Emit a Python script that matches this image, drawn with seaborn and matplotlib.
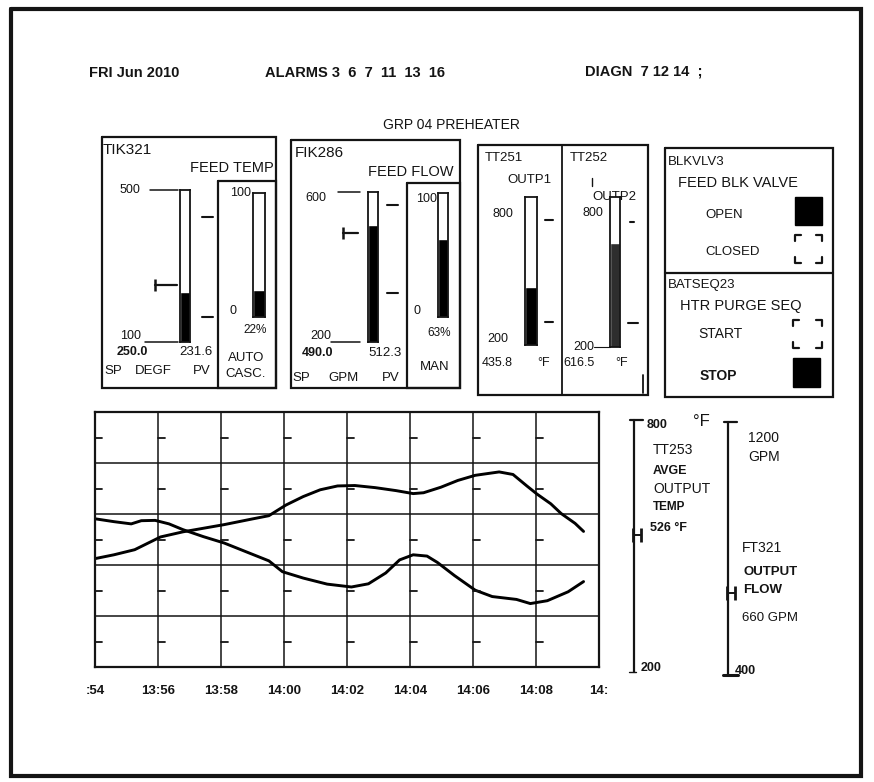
import numpy as np
import pandas as pd
import matplotlib.pyplot as plt
import matplotlib.transforms as mtransforms
import seaborn as sns

plt.switch_backend("Agg")

# ---- data ----
HEADER_DATE = "FRI Jun 2010"
ALARMS = [3, 6, 7, 11, 13, 16]
DIAGN = [7, 12, 14]

GAUGE_TAGS = ["TIK321", "FIK286", "TT251", "TT252"]
GAUGE_LO = [100, 200, 200, 200]
GAUGE_HI = [500, 600, 800, 800]
GAUGE_PV = [231.6, 512.3, 435.8, 616.5]
GAUGE_SP = [250.0, 490.0, None, None]
GAUGE_ALARM_HI = [430, 565, 707, 700]
GAUGE_ALARM_LO = [165, 331, 293, 296]
OUTPUT_PCT = [22, 63]

# trend: minutes after 13:54
TT253_MIN = [0, 0.60, 1.26, 2.08, 2.79, 4.10, 4.97, 5.52, 6.06, 6.61, 7.15, 7.70, 8.25, 8.90,
             9.56, 10.10, 10.43, 10.98, 11.52, 12.07, 12.83, 13.27, 13.71, 14.03, 14.47,
             14.80, 15.24, 15.51]
TT253_F = [455, 464, 476, 506, 518, 535, 548, 556, 581, 601, 617, 626, 627, 622,
           615, 608, 610, 623, 639, 651, 659, 653, 626, 607, 584, 561, 538, 519]
FT321_MIN = [0, 0.60, 1.15, 1.47, 1.91, 2.35, 2.79, 3.44, 4.10, 4.86, 5.52, 5.95, 6.61, 7.37,
             8.14, 8.68, 9.23, 9.67, 10.10, 10.54, 10.87, 11.41, 12.07, 12.61, 13.38, 13.82,
             14.36, 15.02, 15.51]
FT321_GPM = [865, 856, 849, 859, 860, 849, 831, 809, 789, 759, 733, 699, 679, 660,
             651, 661, 695, 736, 752, 748, 728, 687, 641, 621, 612, 599, 608, 636, 668]
TIME_LABELS = [":54", "13:56", "13:58", "14:00", "14:02", "14:04", "14:06", "14:08", "14:"]
TEMP_RANGE = [200, 800]
FLOW_RANGE = [400, 1200]
TT253_NOW = 526
FT321_NOW = 660

W, H = 874, 782
INK = "#141414"

sns.set_theme(style="white")
plt.rcParams["font.family"] = ["Liberation Sans", "DejaVu Sans"]

fig = plt.figure(figsize=(W / 100, H / 100), dpi=100)
bg = fig.add_axes([0, 0, 1, 1])
bg.set_xlim(0, W)
bg.set_ylim(H, 0)
bg.axis("off")


def px_axes(x0, y0, x1, y1):
    return fig.add_axes([x0 / W, 1 - y1 / H, (x1 - x0) / W, (y1 - y0) / H])


def txt(x, y, s, size=9, weight="normal", ha="left", va="center", **kw):
    bg.text(x, y, s, fontsize=size, fontweight=weight, ha=ha, va=va, color=INK, **kw)


def box(x0, y0, x1, y1, lw=1.6):
    bg.plot([x0, x1, x1, x0, x0], [y0, y0, y1, y1, y0], color=INK, lw=lw, solid_joinstyle="miter")


def line(xs, ys, lw=1.3):
    bg.plot(xs, ys, color=INK, lw=lw)


# outer frame
box(11, 9, 861, 776, lw=3)

# header
txt(89, 73, HEADER_DATE, size=10.5, weight="bold")
txt(265, 73, "ALARMS " + "  ".join(str(a) for a in ALARMS), size=10.5, weight="bold")
txt(585, 72, "DIAGN  " + " ".join(str(d) for d in DIAGN) + "  ;", size=10.5, weight="bold")
txt(451, 125, "GRP 04 PREHEATER", size=10, ha="center")


def gauge(rect, lo, hi, pv, color="black"):
    ax = px_axes(*rect)
    sns.barplot(x=["pv"], y=[pv], color=color, width=1.0, saturation=1, ax=ax)
    ax.set_ylim(lo, hi)
    ax.set_xlim(-0.5, 0.5)
    ax.set_xticks([])
    ax.set_yticks([])
    ax.set_xlabel("")
    ax.set_ylabel("")
    ax.set_facecolor("white")
    for sp in ax.spines.values():
        sp.set_visible(True)
        sp.set_color(INK)
        sp.set_linewidth(1.3)
    trans = mtransforms.blended_transform_factory(ax.transAxes, ax.transData)
    x0, x1 = rect[0], rect[2]

    def fx(px):
        return (px - x0) / (x1 - x0)

    return ax, trans, fx


def hmark(ax, trans, fx, a, b, v, lw=1.5):
    ax.plot([fx(a), fx(b)], [v, v], color=INK, lw=lw, transform=trans, clip_on=False)


def sp_mark(ax, trans, fx, a, b, v):
    ax.plot([fx(a), fx(b)], [v, v], color=INK, lw=1.6, transform=trans, clip_on=False)
    ax.plot([fx(a)], [v], marker="|", ms=8, mew=1.8, color=INK, transform=trans, clip_on=False)


# ---- panel 1 : TIK321 ----
box(102, 137, 276, 388)
box(218, 181, 276, 388)
txt(103, 150, GAUGE_TAGS[0], size=11)
txt(274, 168, "FEED TEMP", size=10.5, ha="right")
ax, tr, fx = gauge((180, 190, 190, 342), GAUGE_LO[0], GAUGE_HI[0], GAUGE_PV[0])
hmark(ax, tr, fx, 150, 178, GAUGE_HI[0], lw=1.1)
hmark(ax, tr, fx, 145, 178, GAUGE_LO[0], lw=1.1)
ax.text(fx(140), GAUGE_HI[0], str(GAUGE_HI[0]), transform=tr, ha="right", va="center", fontsize=9, color=INK)
ax.text(fx(141), GAUGE_LO[0], str(GAUGE_LO[0]), transform=tr, ha="right", va="bottom", fontsize=9, color=INK)
sp_mark(ax, tr, fx, 155, 177, GAUGE_SP[0])
hmark(ax, tr, fx, 202, 213, GAUGE_ALARM_HI[0])
hmark(ax, tr, fx, 202, 213, GAUGE_ALARM_LO[0])
ax, tr, fx = gauge((253, 193, 265, 317), 0, 100, OUTPUT_PCT[0])
ax.text(fx(251), 100, "100", transform=tr, ha="right", va="center", fontsize=9, color=INK)
ax.text(fx(236), 0, "0", transform=tr, ha="right", va="bottom", fontsize=9, color=INK)
txt(267, 330, f"{OUTPUT_PCT[0]}%", size=8.5, ha="right")
txt(117, 352, f"{GAUGE_SP[0]:.1f}", size=9, weight="bold")
txt(213, 352, f"{GAUGE_PV[0]:.1f}", size=9.5, ha="right")
txt(104, 371, "SP", size=9.5)
txt(135, 371, "DEGF", size=9.5)
txt(193, 371, "PV", size=9.5)
txt(246, 358, "AUTO", size=9.5, ha="center")
txt(246, 374, "CASC.", size=9.5, ha="center")

# ---- panel 2 : FIK286 ----
box(291, 140, 460, 388)
box(407, 183, 460, 388)
txt(295, 153, GAUGE_TAGS[1], size=11)
txt(454, 172, "FEED FLOW", size=10.5, ha="right")
ax, tr, fx = gauge((368, 192, 378, 342), GAUGE_LO[1], GAUGE_HI[1], GAUGE_PV[1])
hmark(ax, tr, fx, 338, 360, GAUGE_HI[1], lw=1.1)
hmark(ax, tr, fx, 331, 360, GAUGE_LO[1], lw=1.1)
ax.text(fx(326), GAUGE_HI[1], str(GAUGE_HI[1]), transform=tr, ha="right", va="top", fontsize=9, color=INK)
ax.text(fx(331), GAUGE_LO[1], str(GAUGE_LO[1]), transform=tr, ha="right", va="bottom", fontsize=9, color=INK)
sp_mark(ax, tr, fx, 343, 358, GAUGE_SP[1])
hmark(ax, tr, fx, 387, 398, GAUGE_ALARM_HI[1])
hmark(ax, tr, fx, 387, 398, GAUGE_ALARM_LO[1])
ax, tr, fx = gauge((438, 193, 448, 317), 0, 100, OUTPUT_PCT[1])
ax.text(fx(437), 100, "100", transform=tr, ha="right", va="top", fontsize=9, color=INK)
ax.text(fx(420), 0, "0", transform=tr, ha="right", va="bottom", fontsize=9, color=INK)
txt(451, 333, f"{OUTPUT_PCT[1]}%", size=8.5, ha="right")
txt(302, 353, f"{GAUGE_SP[1]:.1f}", size=9, weight="bold")
txt(402, 353, f"{GAUGE_PV[1]:.1f}", size=9.5, ha="right")
txt(292, 378, "SP", size=9.5)
txt(328, 378, "GPM", size=9.5)
txt(382, 378, "PV", size=9.5)
txt(435, 367, "MAN", size=9.5, ha="center")

# ---- panel 3 : TT251 / TT252 ----
box(478, 145, 648, 395)
line([562, 562], [145, 395])
line([643, 643], [375, 393])
txt(485, 158, GAUGE_TAGS[2], size=9.5)
txt(507, 180, "OUTP1", size=9.5)
txt(570, 158, GAUGE_TAGS[3], size=9.5)
line([592, 592], [178, 186], lw=1)
txt(592, 197, "OUTP2", size=9.5)
ax, tr, fx = gauge((525, 197, 537, 345), GAUGE_LO[2], GAUGE_HI[2], GAUGE_PV[2])
ax.text(fx(513), 730, str(GAUGE_HI[2]), transform=tr, ha="right", va="center", fontsize=9, color=INK)
ax.text(fx(508), GAUGE_LO[2], str(GAUGE_LO[2]), transform=tr, ha="right", va="bottom", fontsize=9, color=INK)
hmark(ax, tr, fx, 545, 553, GAUGE_ALARM_HI[2])
hmark(ax, tr, fx, 545, 553, GAUGE_ALARM_LO[2])
ax, tr, fx = gauge((610, 197, 620, 347), GAUGE_LO[3], GAUGE_HI[3], GAUGE_PV[3], color="#2e2e2e")
ax.text(fx(603), 735, str(GAUGE_HI[3]), transform=tr, ha="right", va="center", fontsize=9, color=INK)
ax.text(fx(594), GAUGE_LO[3], str(GAUGE_LO[3]), transform=tr, ha="right", va="center", fontsize=9, color=INK)
hmark(ax, tr, fx, 594, 610, GAUGE_LO[3], lw=0.8)
hmark(ax, tr, fx, 628, 638, GAUGE_ALARM_LO[3])
hmark(ax, tr, fx, 630, 634, GAUGE_ALARM_HI[3])
txt(482, 363, f"{GAUGE_PV[2]:.1f}", size=9)
txt(537, 363, "°F", size=9)
txt(563, 363, f"{GAUGE_PV[3]:.1f}", size=9)
txt(615, 363, "°F", size=9)

# ---- panel 4 : discrete devices ----
box(665, 148, 833, 397)
line([665, 833], [273, 273], lw=1.6)
txt(668, 162, "BLKVLV3", size=9.5)
txt(678, 183, "FEED BLK VALVE", size=10.5)
txt(705, 215, "OPEN", size=9.5)
txt(705, 252, "CLOSED", size=9.5)
txt(668, 285, "BATSEQ23", size=9.5)
txt(680, 306, "HTR PURGE SEQ", size=10.5)
txt(698, 334, "START", size=10)
txt(700, 376, "STOP", size=10, weight="bold")
for (x0, y0, x1, y1) in [(795, 197, 822, 225), (793, 358, 820, 387)]:
    bg.fill([x0, x1, x1, x0], [y0, y0, y1, y1], color="black")
for (x0, y0, x1, y1) in [(795, 235, 822, 263), (793, 320, 822, 348)]:
    a = 6
    for cx, cy, dx, dy in [(x0, y0, 1, 1), (x1, y0, -1, 1), (x0, y1, 1, -1), (x1, y1, -1, -1)]:
        bg.plot([cx + dx * a, cx, cx], [cy, cy, cy + dy * a], color=INK, lw=1.6)

# ---- trend chart ----
span_t = TEMP_RANGE[1] - TEMP_RANGE[0]
span_f = FLOW_RANGE[1] - FLOW_RANGE[0]
trend = pd.concat([
    pd.DataFrame({"minute": TT253_MIN, "pct": [(v - TEMP_RANGE[0]) / span_t * 100 for v in TT253_F],
                  "tag": "TT253"}),
    pd.DataFrame({"minute": FT321_MIN, "pct": [(v - FLOW_RANGE[0]) / span_f * 100 for v in FT321_GPM],
                  "tag": "FT321"}),
])

axc = px_axes(95, 412, 599, 667)
axc.set_facecolor("white")
sns.lineplot(data=trend, x="minute", y="pct", hue="tag", palette=["black", "black"],
             linewidth=2.1, legend=False, ax=axc)
xt = np.arange(0, 17, 2)
axc.set_xlim(0, 16)
axc.set_ylim(0, 100)
axc.set_xticks(xt, TIME_LABELS)
axc.set_yticks(np.arange(0, 101, 20))
axc.set_yticklabels([])
axc.tick_params(length=0, pad=13, labelsize=9.5)
for lab in axc.get_xticklabels():
    lab.set_fontweight("bold")
    lab.set_color(INK)
axc.set_xlabel("")
axc.set_ylabel("")
axc.grid(True, color=INK, lw=1.1)
for sp in axc.spines.values():
    sp.set_visible(True)
    sp.set_color(INK)
    sp.set_linewidth(1.6)
for xv in xt[:-1]:
    for yv in (10, 30, 50, 70, 90):
        axc.plot([xv, xv + 0.22], [yv, yv], color=INK, lw=1.3)


# ---- right-hand scales ----
def scale_axis(rect, rng, now, cap_bottom):
    ax = px_axes(*rect)
    ax.set_ylim(*rng)
    ax.set_xlim(0, 1)
    ax.axis("off")
    ax.plot([0, 0], rng, color=INK, lw=1.6, clip_on=False)
    ax.plot([-0.28, 0.55], [rng[1], rng[1]], color=INK, lw=1.6, clip_on=False)
    ax.plot([-0.3, cap_bottom], [rng[0], rng[0]], color=INK, lw=2.2 if cap_bottom > 0.3 else 1.0,
            clip_on=False)
    ax.plot([0, 0.45], [now, now], color=INK, lw=1.4, clip_on=False)
    ax.plot([-0.05, 0.45], [now, now], ls="none", marker="|", ms=10, mew=2.0, color=INK, clip_on=False)
    return ax


scale_axis((634, 420, 650, 672), TEMP_RANGE, TT253_NOW, 0.1)
scale_axis((728, 422, 744, 675), FLOW_RANGE, FT321_NOW, 0.6)

txt(647, 425, str(TEMP_RANGE[1]), size=9, weight="bold")
txt(693, 421, "°F", size=12)
txt(653, 450, "TT253", size=10)
txt(653, 471, "AVGE", size=9, weight="bold")
txt(653, 489, "OUTPUT", size=10)
txt(653, 507, "TEMP", size=8.5, weight="bold")
txt(650, 528, f"{TT253_NOW} °F", size=9, weight="bold")
txt(641, 668, str(TEMP_RANGE[0]), size=9, weight="bold")
txt(748, 438, str(FLOW_RANGE[1]), size=10)
txt(748, 457, "GPM", size=10)
txt(742, 548, "FT321", size=10)
txt(743, 572, "OUTPUT", size=9.5, weight="bold")
txt(743, 590, "FLOW", size=9.5, weight="bold")
txt(742, 618, f"{FT321_NOW} GPM", size=9.5)
txt(735, 671, str(FLOW_RANGE[0]), size=9, weight="bold")

fig.savefig("out.png", dpi=100, facecolor="white")
